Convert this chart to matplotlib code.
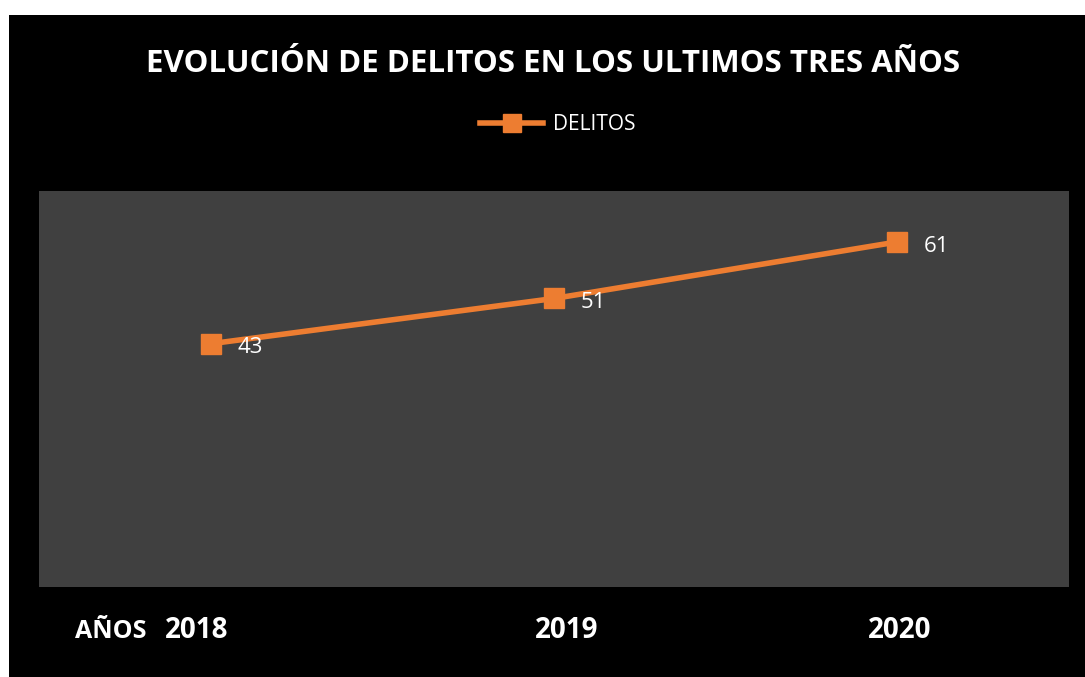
import matplotlib.pyplot as plt
from matplotlib.patches import Rectangle

years = ["2018", "2019", "2020"]
delitos = [43, 51, 61]
title = "EVOLUCIÓN DE DELITOS EN LOS ULTIMOS TRES AÑOS"
orange = "#ED7D31"

W, H = 1085, 677
fig = plt.figure(figsize=(W / 100, H / 100), dpi=100, facecolor="white")

# black chart area (white margin on the left and top)
fig.add_artist(Rectangle((9 / W, 0), 1, (H - 15) / H, transform=fig.transFigure,
                         facecolor="black", edgecolor="none", zorder=0))

ax = fig.add_axes([39 / W, (H - 587) / H, 1030 / W, 396 / H])
ax.set_facecolor("#404040")
xs = range(len(years))
ax.plot(xs, delitos, color=orange, lw=4, marker="s", ms=15,
        markerfacecolor=orange, markeredgecolor=orange, label="DELITOS")
for x, v in zip(xs, delitos):
    ax.annotate(str(v), (x, v), xytext=(19, -3), textcoords="offset points",
                color="white", fontsize=16, va="center", ha="left",
                family="Open Sans")
ax.set_xlim(-0.5, 2.5)
ax.set_ylim(0, 70)
ax.set_xticks([])
ax.set_yticks([])
for s in ax.spines.values():
    s.set_visible(False)

fig.text(553 / W, 1 - 64 / H, title, color="white", fontsize=22.5,
         fontweight="bold", family="Open Sans", ha="center", va="center")

leg = fig.legend(loc="center", bbox_to_anchor=(558 / W, 1 - 125 / H),
                 frameon=False, handlelength=3.0, handletextpad=0.5,
                 markerscale=0.85,
                 prop={"family": "Open Sans", "size": 15})
for t in leg.get_texts():
    t.set_color("white")

# category labels under the plot
label_x = [197, 567, 900]
for lx, y in zip(label_x, years):
    fig.text(lx / W, 1 - 638 / H, y, color="white", fontsize=20,
             fontweight="bold", family="Open Sans", ha="center", va="baseline")
fig.text(111 / W, 1 - 638 / H, "AÑOS", color="white", fontsize=18,
         fontweight="bold", family="Open Sans", ha="center", va="baseline")

fig.savefig("out.png", dpi=100, facecolor="white")
